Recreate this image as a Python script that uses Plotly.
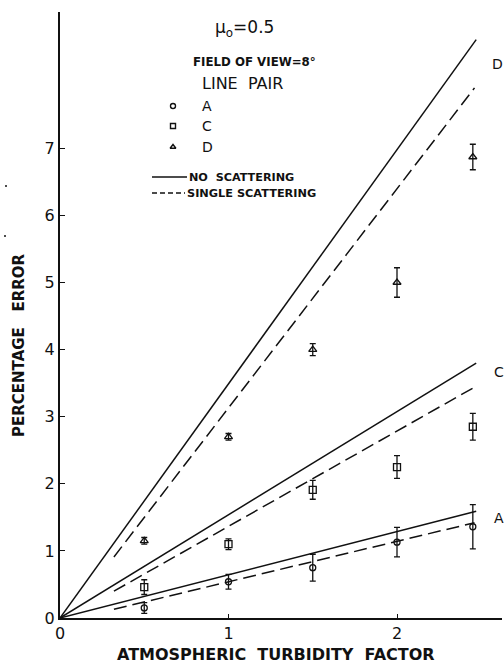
import plotly.graph_objects as go

# ---- data ----
turbidity = [0.5, 1.0, 1.5, 2.0, 2.45]
err_A = [0.15, 0.54, 0.75, 1.13, 1.36]
err_A_bar = [0.08, 0.11, 0.20, 0.22, 0.33]
err_C = [0.46, 1.10, 1.91, 2.25, 2.85]
err_C_bar = [0.11, 0.08, 0.14, 0.17, 0.20]
err_D = [1.15, 2.70, 4.00, 5.00, 6.87]
err_D_bar = [0.05, 0.05, 0.09, 0.22, 0.19]

# theory lines (no scattering = solid, single scattering = dashed)
noscat_x = [0.0, 2.47]
noscat_A = [0.0, 1.59]
noscat_C = [0.0, 3.80]
noscat_D = [0.0, 8.62]
single_x = [0.32, 2.46]
single_A = [0.13, 1.42]
single_C = [0.40, 3.44]
single_D = [0.91, 7.90]

x_ticks = [0, 1, 2]
y_ticks = [0, 1, 2, 3, 4, 5, 6, 7]

FONT = "DejaVu Sans"
BLACK = "#111111"

fig = go.Figure()

for ys in (noscat_A, noscat_C, noscat_D):
    fig.add_trace(go.Scatter(x=noscat_x, y=ys, mode="lines",
                             line=dict(color=BLACK, width=1.5), showlegend=False))
for ys in (single_A, single_C, single_D):
    fig.add_trace(go.Scatter(x=single_x, y=ys, mode="lines",
                             line=dict(color=BLACK, width=1.5, dash="13px,6px"),
                             showlegend=False))

for ys, bars, sym, sz in ((err_A, err_A_bar, "circle-open", 6),
                          (err_C, err_C_bar, "square-open", 7),
                          (err_D, err_D_bar, "triangle-up-open", 7)):
    fig.add_trace(go.Scatter(
        x=turbidity, y=ys, mode="markers",
        marker=dict(symbol=sym, size=sz, color=BLACK, line=dict(width=1.3, color=BLACK)),
        error_y=dict(type="data", array=bars, visible=True, color=BLACK,
                     thickness=1.3, width=3),
        showlegend=False))

# ---- key (drawn on an overlay axis in pixel units) ----
PX_L, PX_R, PX_T, PX_B = 60, 502, 12, 618
key_sym_x = [173, 173, 173]
key_sym_y = [106, 126, 147]
key_syms = ["circle-open", "square-open", "triangle-up-open"]
fig.add_trace(go.Scatter(x=key_sym_x, y=key_sym_y, mode="markers", xaxis="x2", yaxis="y2",
                         marker=dict(symbol=key_syms, size=5, color=BLACK,
                                     line=dict(width=1.4, color=BLACK)),
                         showlegend=False))
fig.add_trace(go.Scatter(x=[152, 187], y=[177, 177], mode="lines", xaxis="x2", yaxis="y2",
                         line=dict(color=BLACK, width=1.3), showlegend=False))
fig.add_trace(go.Scatter(x=[152, 185], y=[193, 193], mode="lines", xaxis="x2", yaxis="y2",
                         line=dict(color=BLACK, width=1.3, dash="5px,3px"), showlegend=False))

def txt(x, y, s, size, bold=False, anchor="left", angle=0, xref="x2", yref="y2"):
    fig.add_annotation(x=x, y=y, xref=xref, yref=yref, text=s, showarrow=False,
                       xanchor=anchor, yanchor="middle", textangle=angle,
                       font=dict(family=FONT, size=size, color=BLACK,
                                 weight="bold" if bold else "normal"))

txt(213, 28, "μ<sub>o</sub>=0.5", 17)
txt(191, 62, "FIELD OF VIEW=8°", 11.8, bold=True)
txt(200, 83, "LINE  PAIR", 16)
txt(200, 106, "A", 14)
txt(200, 126, "C", 14)
txt(200, 147, "D", 14)
txt(187, 177, "NO  SCATTERING", 11.2, bold=True)
txt(185, 193, "SINGLE SCATTERING", 11.3, bold=True)
txt(490, 64, "D", 14)
txt(492, 372, "C", 14)
txt(492, 518, "A", 14)

# axis titles placed in paper pixel coordinates
PW, PH = PX_R - PX_L, PX_B - PX_T
def paper_x(px):
    return (px - PX_L) / PW
def paper_y(py):
    return (PX_B - py) / PH

txt(paper_x(276), paper_y(654), "ATMOSPHERIC  TURBIDITY  FACTOR", 16, bold=True,
    anchor="center", xref="paper", yref="paper")
txt(paper_x(19), paper_y(345), "PERCENTAGE   ERROR", 15, bold=True,
    anchor="center", angle=-90, xref="paper", yref="paper")

# stray specks in the scan
for sx, sy in ((6, 186), (5, 236)):
    fig.add_shape(type="circle", xref="paper", yref="paper",
                  x0=paper_x(sx - 1), x1=paper_x(sx + 1),
                  y0=paper_y(sy + 1), y1=paper_y(sy - 1),
                  fillcolor=BLACK, line=dict(width=0))

fig.update_layout(
    width=504, height=665,
    margin=dict(l=PX_L, r=504 - PX_R, t=PX_T, b=665 - PX_B),
    paper_bgcolor="white", plot_bgcolor="white",
    font=dict(family=FONT, color=BLACK),
    hovermode=False,
    xaxis=dict(range=[0, PW / 168.5], tickvals=x_ticks,
               ticktext=[str(v) for v in x_ticks], automargin=False,
               showgrid=False, zeroline=False, showline=True, linecolor=BLACK, linewidth=2.2,
               ticks="inside", ticklen=4, tickwidth=1.3, tickcolor=BLACK,
               tickfont=dict(size=16, family=FONT)),
    yaxis=dict(range=[0, PH / 67.1], tickvals=y_ticks, automargin=False,
               showgrid=False, zeroline=False, showline=True, linecolor=BLACK, linewidth=2,
               ticks="inside", ticklen=5, tickwidth=1.3, tickcolor=BLACK,
               tickfont=dict(size=16, family=FONT)),
    xaxis2=dict(overlaying="x", range=[PX_L, PX_R], visible=False),
    yaxis2=dict(overlaying="y", range=[PX_B, PX_T], visible=False),
)

fig.write_html("out.html", config={"displayModeBar": False},
               post_script="document.body.style.margin='0';document.body.style.overflow='hidden';")
